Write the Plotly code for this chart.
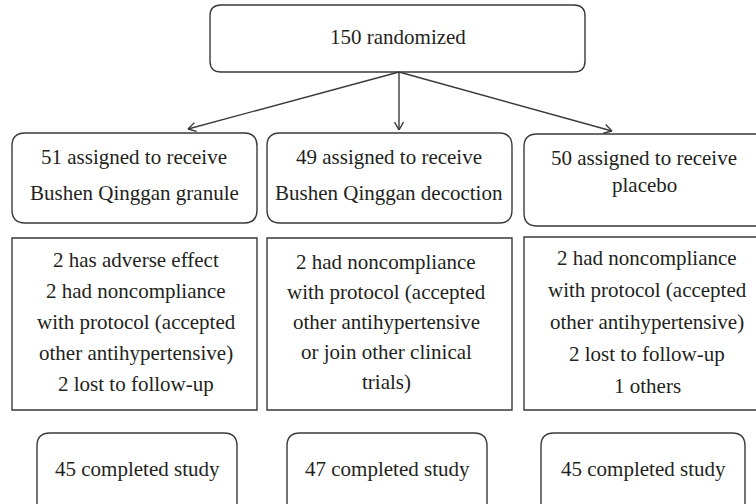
import math
import plotly.graph_objects as go

# ---- content ----
top_text = "150 randomized"
assign_texts = [
    ["51 assigned to receive", "Bushen Qinggan granule"],
    ["49 assigned to receive", "Bushen Qinggan decoction"],
    ["50 assigned to receive", "placebo"],
]
dropout_texts = [
    ["2 has adverse effect", "2 had noncompliance", "with protocol (accepted",
     "other antihypertensive)", "2 lost to follow-up"],
    ["2 had noncompliance", "with protocol (accepted", "other antihypertensive",
     "or join other clinical", "trials)"],
    ["2 had noncompliance", "with protocol (accepted", "other antihypertensive)",
     "2 lost to follow-up", "1 others"],
]
completed_texts = ["45 completed study", "47 completed study", "45 completed study"]

# ---- layout (pixel coordinates, y downward) ----
W, H = 756, 504
LINE = "#3a3a3a"
TXT = "#231f20"
FONT = "Liberation Serif"
FS = 21

top_box = (210, 5, 585, 72)
assign_boxes = [(12, 133, 257, 223), (267, 133, 512, 223), (524, 134, 772, 226)]
assign_line_y = [[157, 193], [157, 193], [158, 185]]
assign_cx = [134, 389, 644]
drop_boxes = [(12, 238, 257, 410), (267, 238, 512, 410), (524, 237, 772, 410)]
drop_start = [260, 262, 258]
drop_step = [31, 30, 32]
drop_cx = [136, 386, 647]
comp_boxes = [(37, 433, 237, 520), (287, 433, 487, 520), (541, 433, 745, 520)]
comp_y = 469
arrow_src = (399, 72)
arrow_dst = [(188, 129), (399, 130), (612, 131)]

fig = go.Figure()
shapes = []
annots = []


def rrect(b, r, width=1.4):
    x0, y0, x1, y1 = b
    p = (f"M {x0+r},{y0} L {x1-r},{y0} Q {x1},{y0} {x1},{y0+r} "
         f"L {x1},{y1-r} Q {x1},{y1} {x1-r},{y1} L {x0+r},{y1} "
         f"Q {x0},{y1} {x0},{y1-r} L {x0},{y0+r} Q {x0},{y0} {x0+r},{y0} Z")
    shapes.append(dict(type="path", path=p, xref="x", yref="y",
                       line=dict(color=LINE, width=width), fillcolor="rgba(0,0,0,0)"))


def rect(b, width=1.4):
    x0, y0, x1, y1 = b
    shapes.append(dict(type="rect", x0=x0, y0=y0, x1=x1, y1=y1, xref="x", yref="y",
                       line=dict(color=LINE, width=width), fillcolor="rgba(0,0,0,0)"))


def text(x, y, s):
    annots.append(dict(x=x, y=y, xref="x", yref="y", text=s, showarrow=False,
                       xanchor="center", yanchor="middle",
                       font=dict(family=FONT, size=FS, color=TXT)))


def arrow(p0, p1, head=9, ang=30):
    x0, y0 = p0
    x1, y1 = p1
    shapes.append(dict(type="line", x0=x0, y0=y0, x1=x1, y1=y1, xref="x", yref="y",
                       line=dict(color=LINE, width=1.4)))
    th = math.atan2(y0 - y1, x0 - x1)
    for s in (1, -1):
        a = th + s * math.radians(ang)
        shapes.append(dict(type="line", x0=x1, y0=y1,
                           x1=x1 + head * math.cos(a), y1=y1 + head * math.sin(a),
                           xref="x", yref="y", line=dict(color=LINE, width=1.4)))


rrect(top_box, 11)
text((top_box[0] + top_box[2]) / 2, 37, top_text)

for d in arrow_dst:
    arrow(arrow_src, d)

for i in range(3):
    rrect(assign_boxes[i], 13)
    for s, y in zip(assign_texts[i], assign_line_y[i]):
        text(assign_cx[i], y, s)
    rect(drop_boxes[i])
    for k, s in enumerate(dropout_texts[i]):
        text(drop_cx[i], drop_start[i] + k * drop_step[i], s)
    rrect(comp_boxes[i], 13)
    text((comp_boxes[i][0] + comp_boxes[i][2]) / 2, comp_y, completed_texts[i])

fig.update_layout(
    width=W, height=H, margin=dict(l=0, r=0, t=0, b=0),
    paper_bgcolor="white", plot_bgcolor="white",
    font=dict(family=FONT),
    xaxis=dict(range=[0, W], visible=False, fixedrange=True),
    yaxis=dict(range=[H, 0], visible=False, fixedrange=True),
    shapes=shapes, annotations=annots, showlegend=False,
)
fig.write_html("out.html", config={"displayModeBar": False},
               post_script="document.body.style.margin='0';document.body.style.overflow='hidden';")
